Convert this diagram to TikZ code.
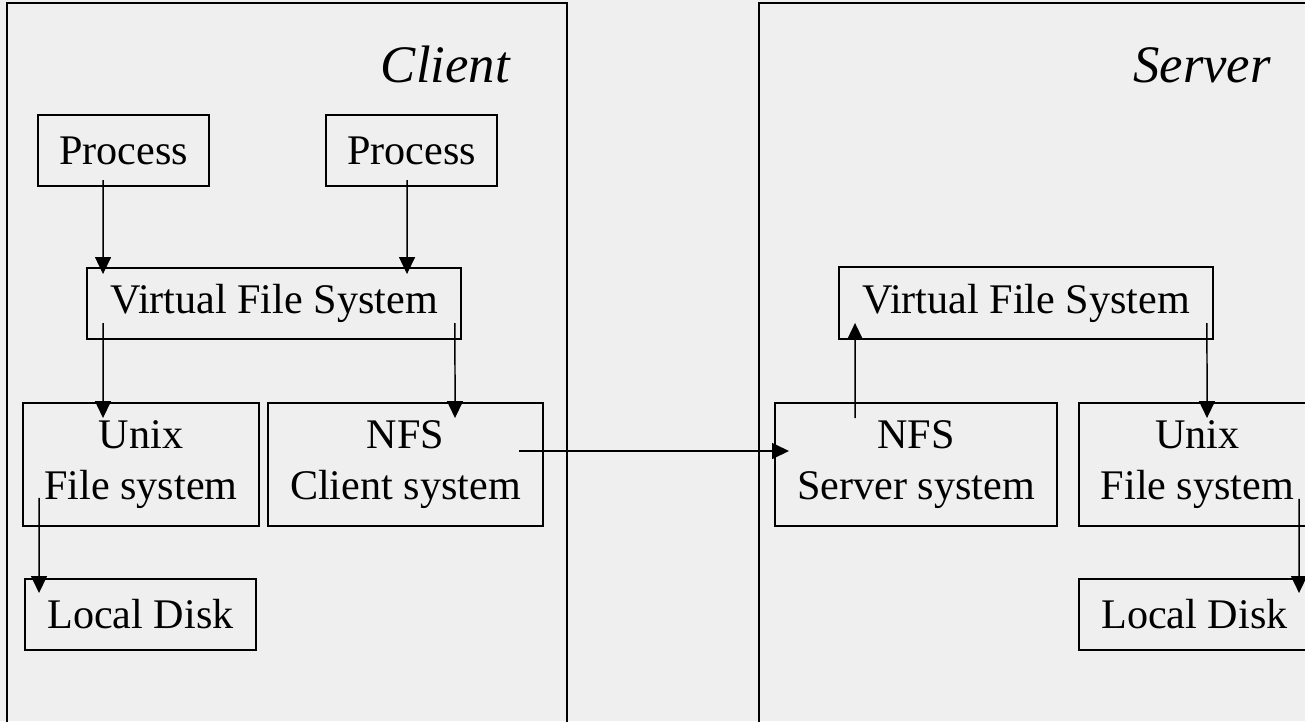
\documentclass[tikz,border=0pt]{standalone}
\usepackage{fontspec}
\setmainfont{Liberation Serif}
\usepackage{tikz}
\usetikzlibrary{arrows.meta,calc}

\definecolor{bggray}{HTML}{EFEFEF}

\tikzset{
  fsbox/.style={draw, line width=1pt, inner sep=0pt, outer sep=0pt, align=center,
    font=\fontsize{24}{29.5}\selectfont},
  flow/.style={line width=0.85pt, -{Triangle[length=0.34cm,width=0.32cm]}},
  side/.style={anchor=base east, font=\fontsize{30}{36}\selectfont\itshape}
}

\begin{document}
\begin{tikzpicture}[x=0.02cm, y=-0.02cm]
      \useasboundingbox (0,0) rectangle (1305,721);
      \clip (0,0) rectangle (1305,721);
      \fill[bggray] (0,0) rectangle (1305,721);

      \draw[line width=1.2pt] (7,3) rectangle (567,740);
      \draw[line width=1.2pt] (759,3) rectangle (1330,740);
      \node[side] (client) at (516,82) {Client};
      \node[side] (server) at (1277,82) {Server};

      \node[fsbox, minimum width=3.42cm, minimum height=1.42cm] (p1) at (123.5,150.5) {Process};
      \node[fsbox, minimum width=3.42cm, minimum height=1.42cm] (p2) at (411.5,150.5) {Process};
      \node[fsbox, minimum width=7.48cm, minimum height=1.42cm] (vfsC) at (274,303.5) {Virtual File System};
      \node[fsbox, minimum width=4.72cm, minimum height=2.46cm] (unixC) at (141,464.5) {Unix\\File system};
      \node[fsbox, minimum width=5.5cm, minimum height=2.46cm] (nfsC) at (405.5,464.5) {NFS\\Client system};
      \node[fsbox, minimum width=4.62cm, minimum height=1.42cm] (diskC) at (140.5,614.5) {Local Disk};

      \node[fsbox, minimum width=7.48cm, minimum height=1.44cm] (vfsS) at (1026,303) {Virtual File System};
      \node[fsbox, minimum width=5.64cm, minimum height=2.46cm] (nfsS) at (916,464.5) {NFS\\Server system};
      \node[fsbox, minimum width=4.74cm, minimum height=2.46cm] (unixS) at (1197.5,464.5) {Unix\\File system};
      \node[fsbox, minimum width=4.62cm, minimum height=1.42cm] (diskS) at (1194.5,614.5) {Local Disk};

      \draw[flow] ($(p1.south west)+(65,-6)$) -- ($(vfsC.north west)+(16,6)$);
      \draw[flow] ($(p2.south west)+(81,-6)$) -- ($(vfsC.north west)+(320,6)$);
      \draw[flow] ($(vfsC.south west)+(16,-16)$) -- ($(unixC.north west)+(80,15)$);
      \draw[flow] ($(vfsC.south east)+(-6,-16)$) -- ($(nfsC.north west)+(187,15)$);
      \draw[flow] ($(unixC.south west)+(16,-28)$) -- ($(diskC.north west)+(14,14)$);
      \draw[flow] ($(nfsC.east)+(-24,-13.5)$) -- ($(nfsS.west)+(14,-13.5)$);

      \draw[flow] ($(nfsS.north west)+(80,15)$) -- ($(vfsS.south west)+(16,-16)$);
      \draw[flow] ($(vfsS.south east)+(-6,-16)$) -- ($(unixS.north west)+(128,15)$);
      \draw[flow] ($(unixS.south west)+(220,-27)$) -- ($(diskS.north west)+(220,14)$);
\end{tikzpicture}
\end{document}
